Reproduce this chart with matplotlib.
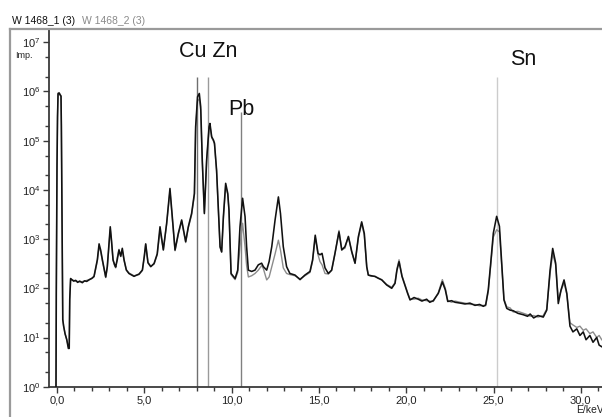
import matplotlib
matplotlib.use("Agg")
import matplotlib.pyplot as plt
from matplotlib.lines import Line2D
from matplotlib.ticker import LogLocator, MultipleLocator, FuncFormatter, LogFormatterSciNotation, NullFormatter

plt.rcParams['font.family'] = ['Liberation Sans', 'DejaVu Sans']
plt.rcParams['mathtext.fontset'] = 'custom'
plt.rcParams['mathtext.rm'] = 'Liberation Sans'
plt.rcParams['mathtext.it'] = 'Liberation Sans'
plt.rcParams['mathtext.bf'] = 'Liberation Sans'

# ---------------- data ----------------
series_names = ["W 1468_1 (3)", "W 1468_2 (3)"]

energy_kev = [
    -0.06, -0.04, 0.00, 0.03, 0.06, 0.12, 0.18, 0.23,
    0.25, 0.27, 0.30, 0.33, 0.38, 0.46, 0.56, 0.65,
    0.70, 0.73, 0.78, 0.85, 0.95, 1.07, 1.18, 1.30,
    1.45, 1.58, 1.70, 1.83, 2.00, 2.12, 2.31, 2.41,
    2.50, 2.60, 2.72, 2.79, 2.88, 2.98, 3.05, 3.12,
    3.21, 3.30, 3.36, 3.45, 3.55, 3.65, 3.74, 3.84,
    3.97, 4.12, 4.41, 4.70, 4.89, 5.00, 5.08, 5.21,
    5.37, 5.56, 5.74, 5.90, 6.09, 6.28, 6.47, 6.60,
    6.76, 6.95, 7.14, 7.37, 7.52, 7.71, 7.87, 7.94,
    8.05, 8.15, 8.23, 8.32, 8.44, 8.57, 8.71, 8.76,
    8.86, 8.96, 9.02, 9.14, 9.34, 9.43, 9.53, 9.66,
    9.78, 9.85, 9.97, 10.20, 10.35, 10.48, 10.63, 10.77,
    10.86, 10.96, 11.15, 11.34, 11.53, 11.72, 11.82, 12.01,
    12.15, 12.30, 12.49, 12.68, 12.80, 12.96, 13.15, 13.34,
    13.63, 13.92, 14.20, 14.49, 14.64, 14.79, 14.95, 15.06,
    15.18, 15.35, 15.54, 15.73, 15.92, 16.15, 16.31, 16.49,
    16.69, 16.88, 17.07, 17.26, 17.45, 17.60, 17.74, 17.83,
    18.00, 18.21, 18.40, 18.60, 18.88, 19.17, 19.36, 19.47,
    19.59, 19.76, 19.89, 20.08, 20.22, 20.45, 20.69, 20.90,
    21.17, 21.35, 21.55, 21.84, 22.07, 22.24, 22.38, 22.60,
    22.80, 23.10, 23.37, 23.65, 23.94, 24.20, 24.42, 24.55,
    24.70, 24.84, 24.99, 25.18, 25.34, 25.47, 25.60, 25.76,
    25.95, 26.13, 26.40, 26.71, 26.95, 27.10, 27.30, 27.55,
    27.85, 28.05, 28.24, 28.39, 28.56, 28.71, 28.87, 29.04,
    29.20, 29.38, 29.55, 29.77, 29.95, 30.14, 30.30, 30.52,
    30.70, 30.91, 31.05, 31.20,
]

counts_w1 = [
    0.5, 79, 30000, 300000, 900000, 930000, 850000, 800000,
    200000, 18600, 275, 23, 17, 12, 9, 6,
    6, 60, 158, 150, 140, 145, 132, 140,
    130, 142, 138, 148, 160, 175, 380, 800,
    600, 380, 230, 170, 275, 800, 1780, 950,
    380, 300, 270, 380, 600, 450, 650, 380,
    235, 200, 175, 195, 235, 450, 800, 330,
    275, 320, 500, 1780, 600, 2100, 10700, 2870,
    600, 1320, 2450, 890, 1780, 3330, 8500, 191000,
    780000, 912000, 490000, 40700, 3300, 40700, 191000, 224000,
    120000, 103000, 89000, 25000, 700, 550, 2870, 13600,
    8500, 3900, 200, 158, 234, 1780, 6760, 2870,
    700, 234, 220, 234, 300, 324, 275, 234,
    350, 700, 2450, 7200, 3300, 700, 275, 200,
    186, 150, 186, 220, 380, 1200, 513, 480,
    513, 260, 200, 234, 513, 1400, 600, 700,
    1120, 560, 324, 1120, 2240, 1300, 275, 186,
    180, 174, 160, 148, 117, 100, 126, 234,
    347, 174, 126, 79, 58, 65, 60, 55,
    60, 52, 56, 79, 135, 93, 54, 56,
    52, 50, 48, 50, 45, 47, 43, 46,
    93, 324, 1320, 2900, 1820, 324, 58, 39,
    36, 35, 31, 29, 27, 30, 25, 28,
    26, 36, 234, 646, 324, 49, 93, 148,
    79, 17, 13, 15, 11, 13, 9, 11,
    8, 10, 7, 6.5,
]

counts_w2 = [
    0.5, 79, 30000, 320000, 930000, 950000, 880000, 820000,
    210000, 19000, 290, 24, 17, 12, 9, 6.5,
    6.5, 60, 155, 148, 145, 140, 138, 135,
    137, 140, 145, 150, 158, 170, 360, 700,
    560, 360, 220, 165, 260, 760, 1600, 900,
    370, 290, 260, 420, 620, 440, 600, 370,
    240, 205, 180, 190, 230, 430, 780, 340,
    280, 310, 480, 1500, 620, 2000, 9500, 2700,
    580, 1250, 2300, 850, 1700, 3100, 8000, 170000,
    650000, 700000, 420000, 38000, 3500, 38000, 180000, 200000,
    115000, 98000, 85000, 24000, 680, 540, 2700, 12000,
    8000, 3700, 190, 150, 210, 700, 2100, 700,
    290, 170, 180, 200, 234, 290, 250, 148,
    170, 275, 500, 950, 600, 260, 200, 190,
    180, 155, 180, 210, 360, 1100, 480, 350,
    300, 200, 195, 230, 500, 1500, 620, 650,
    1150, 540, 320, 1050, 2100, 1200, 270, 185,
    175, 176, 162, 150, 120, 105, 130, 250,
    380, 180, 130, 82, 60, 60, 63, 58,
    56, 55, 54, 82, 150, 100, 56, 52,
    55, 52, 50, 47, 47, 44, 45, 44,
    85, 290, 1100, 1550, 1400, 300, 60, 42,
    40, 33, 34, 31, 29, 27, 28, 26,
    28, 38, 200, 500, 300, 60, 90, 130,
    75, 20, 18, 16, 17, 14, 15, 12,
    13, 10, 11, 9,
]

element_names = ["Cu", "Zn", "Pb", "Sn"]
element_kev = [8.04, 8.63, 10.55, 25.20]
element_line_top = [2.0e6, 2.0e6, 3.8e5, 2.0e6]

x_tick_values = [0, 5, 10, 15, 20, 25, 30]

# ---------------- figure ----------------
W, H = 602, 417
fig = plt.figure(figsize=(W / 100, H / 100), dpi=100)
fig.patch.set_facecolor('white')

def fx(px):
    return px / W

def fy(py):
    return 1 - py / H

ax_left, ax_right, ax_top, ax_bottom = 49, 602, 29.5, 386.7
ax = fig.add_axes([fx(ax_left), fy(ax_bottom), (ax_right - ax_left) / W, (ax_bottom - ax_top) / H])
ax.set_facecolor('white')

# outer frame of the spectrum window
fig.add_artist(Line2D([fx(10), fx(10)], [0, fy(29)], transform=fig.transFigure, color='#9a9a9a', lw=1.6))
fig.add_artist(Line2D([fx(10), 1], [fy(29), fy(29)], transform=fig.transFigure, color='#9a9a9a', lw=1.6))

# element marker lines
line_colors = ['#6f6f6f', '#9a9a9a', '#808080', '#cccccc']
for e, top, c in zip(element_kev, element_line_top, line_colors):
    ax.vlines(e, 0.1, top, colors=c, lw=1.0, zorder=1)

# spectra
ax.plot(energy_kev, counts_w2, color='#8c8c8c', lw=1.0, zorder=2)
ax.plot(energy_kev, counts_w1, color='#111111', lw=1.15, zorder=3)

ax.set_yscale('log')
ax.set_xlim((ax_left - 57) / 17.46, (ax_right - 57) / 17.46)
ax.set_ylim(1, 10 ** ((ax_bottom - ax_top) / 49.2))

ax.xaxis.set_major_locator(plt.FixedLocator(x_tick_values))
ax.xaxis.set_minor_locator(MultipleLocator(1))
ax.xaxis.set_major_formatter(FuncFormatter(lambda v, _: f"{v:.1f}".replace('.', ',')))
ax.yaxis.set_major_locator(LogLocator(base=10, numticks=12))
ax.yaxis.set_minor_locator(LogLocator(base=10, subs=[2, 5], numticks=12))
ax.yaxis.set_major_formatter(LogFormatterSciNotation())
ax.yaxis.set_minor_formatter(NullFormatter())

for s in ['top', 'right']:
    ax.spines[s].set_visible(False)
for s in ['left', 'bottom']:
    ax.spines[s].set_color('#3a3a3a')
    ax.spines[s].set_linewidth(1.3)

ax.tick_params(which='major', direction='out', length=4, width=1, color='#3a3a3a',
               labelsize=8, pad=2, labelcolor='#222222')
ax.tick_params(which='minor', direction='out', length=3, width=1, color='#3a3a3a')

# texts
fig.text(fx(12), fy(24), series_names[0], fontsize=7.5, color='#111111', va='baseline')
fig.text(fx(82), fy(24), series_names[1], fontsize=7.5, color='#8a8a8a', va='baseline')
fig.text(fx(15), fy(55), "Imp.", fontsize=6.5, color='#222222', va='center')
fig.text(fx(576), fy(410), "E/keV", fontsize=7.5, color='#222222', va='center')

fig.text(fx(208), fy(57), f"{element_names[0]} {element_names[1]}", fontsize=15.5,
         ha='center', va='baseline', color='#111111')
fig.text(fx(241.5), fy(115), element_names[2], fontsize=15.5, ha='center', va='baseline', color='#111111')
fig.text(fx(523), fy(65), element_names[3], fontsize=15.5, ha='center', va='baseline', color='#111111')

fig.savefig("out.png", dpi=100)
